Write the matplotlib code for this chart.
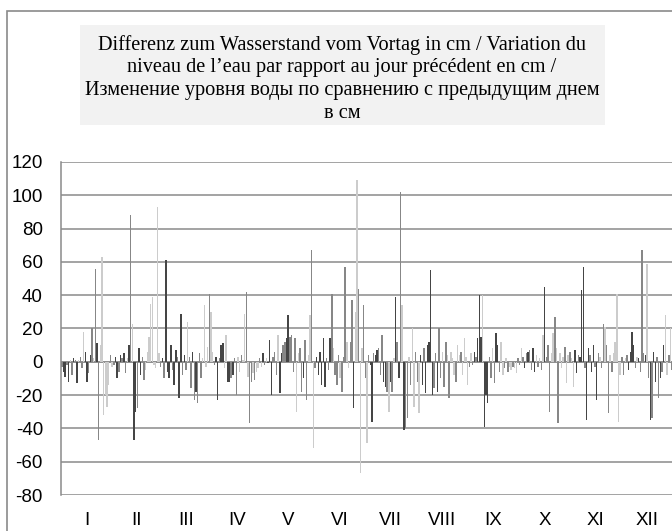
import matplotlib.pyplot as plt
from matplotlib.patches import Rectangle

plt.rcParams['axes.unicode_minus'] = False

# ================= data =================
months = ['I', 'II', 'III', 'IV', 'V', 'VI', 'VII', 'VIII', 'IX', 'X', 'XI', 'XII']
month_days = [31, 28, 31, 30, 31, 30, 31, 31, 30, 31, 30, 31]

# daily change of the water level in cm
jan = [-3, -6, -9, -2, -12, 1, -8, 2, 1, -13, 1, 3, -4, 18, 6, -12, -7, 4, 20, 2,
       56, 11, -47, 10, 63, -32, -20, -27, -14, 4, -3]
feb = [-2, 3, -10, -6, 4, 2, 5, -7, 2, 10, 88, 23, -47, -30, -28, 8, -8, 3, -11, -5,
       6, 15, 35, 39, -2, -4, 93, 5]
mar = [-3, 2, -10, 61, -6, -10, 10, -5, -14, 7, 3, -22, 29, -8, 4, -5, 24, 3, -16, 6,
       -23, -18, -25, 5, -10, 2, 34, -3, 9, 41, 30]
apr = [6, -2, 3, -23, 2, 10, 11, -4, 16, -12, -12, -10, -8, 2, -20, 3, -6, 4, 1, 29,
       42, -9, -37, -12, -7, -11, -6, -4, 2, -3]
may = [5, -2, 2, -1, 13, -20, 3, 6, -8, 16, -19, 5, 10, 12, 14, 28, 15, 16, -6, 14,
       -30, 5, 8, -18, -10, 13, -23, 4, 28, 67, -52]
jun = [-4, 3, -8, 6, -14, 14, -15, 2, -5, 14, 41, 8, -8, -14, 4, -10, -18, 3, 57, 12,
       -4, 12, 37, -28, 30, 109, 44, -67, 8, 34]
jul = [-10, -49, 4, -2, -36, 5, 4, 7, 8, -8, 16, -12, -15, -18, -30, -12, -18, 2, 39, 12,
       -10, 102, 34, -41, -40, -34, 3, -14, 20, -27, 6]
aug = [-12, -31, 4, -14, 8, -19, 10, 12, 55, -20, -16, 5, -18, 20, -10, 6, -15, 12, 4, -22,
       6, 2, -8, -12, 10, 4, 6, -8, 14, 3, -14]
sep = [-3, 5, -2, 6, 3, 14, 40, 15, 40, -39, -20, -25, 3, -10, 8, -13, 17, 10, -6, 12,
       -8, -4, 2, -6, -3, -5, -3, -4, -7, 2]
oct_ = [-2, 8, 3, -4, 5, 6, 7, -5, 8, -6, 4, -3, 2, -5, 16, 45, 3, 10, -30, 5,
        17, 27, 8, -37, 5, -4, 3, 9, -13, 4, 6]
nov = [2, -15, 7, -7, 4, 3, 43, 57, -4, -35, 8, 4, -6, 10, -3, -23, 5, 3, -4, 23,
       21, 10, -31, 4, -6, 5, 12, 41, -36, -8]
dec = [3, -8, 2, 4, -5, 6, 18, 10, -4, 3, 2, -6, 67, 5, 4, 59, -10, -35, -34, 6,
       -12, 3, -22, -10, -6, 10, 28, -8, 4, 20, -5]

# shade of each bar: d = dark, m = medium, l = light
jan_s = 'mddmdlmdmd' 'lmmlddmdml' 'mdmllllllm' 'l'
feb_s = 'mddmdmdmld' 'mlddmddmml' 'llllllll'
mar_s = 'mdmddddmdd' 'mddmdmlmmd' 'mdmmmllllm' 'l'
apr_s = 'lmddmddlld' 'dmdmmllmll' 'mlmmlmllml'
may_s = 'dmldddmmml' 'ddmmddmmmm' 'llmmdmmllm' 'l'
jun_s = 'mddddddmmd' 'mlmmmlmmml' 'lmmdllmllm'
jul_s = 'mlmddmddmm' 'mddmldmldm' 'dmldmmlmll' 'm'
aug_s = 'mlddmddddd' 'mmdmmlmmlm' 'lllmllmlll' 'l'
sep_s = 'mlmdmdddld' 'ddmmlmddml' 'lmlmllmllm'
oct_s = 'mlmdmdmmdd' 'lmlmldmmml' 'lmlmlllmll' 'm'
nov_s = 'llddmdddmd' 'dmddmdmlmm' 'lmmlmlllll'
dec_s = 'mmlmddddml' 'dmmmdlmdmd' 'dmmdmdllml' 'm'

title = ('Differenz zum Wasserstand vom Vortag in cm / Variation du\n'
         'niveau de l\u2019eau par rapport au jour précédent en cm /\n'
         'Изменение уровня воды по сравнению с предыдущим днем\n'
         'в см')
# ========================================

values = jan + feb + mar + apr + may + jun + jul + aug + sep + oct_ + nov + dec
shades = jan_s + feb_s + mar_s + apr_s + may_s + jun_s + jul_s + aug_s + sep_s + oct_s + nov_s + dec_s

shade_colors = {'d': '#454545', 'm': '#878787', 'l': '#cccccc'}
colors = [shade_colors[s] for s in shades]

W, H = 672, 531
fig = plt.figure(figsize=(W / 100, H / 100), dpi=100)

# outer chart border
fig.patches.append(Rectangle((7 / W, -0.1), 1.2, 1 - 10.5 / H + 0.1,
                             transform=fig.transFigure, fill=False,
                             edgecolor='#8a8a8a', linewidth=1.2))

# title box
fig.patches.append(Rectangle((80 / W, 1 - 125 / H), 525 / W, 100 / H,
                             transform=fig.transFigure, facecolor='#f2f2f2',
                             edgecolor='none'))
fig.text(342 / W, 1 - 79 / H, title, ha='center', va='center',
         family='Liberation Serif', fontsize=14.6, linespacing=1.28)

ax = fig.add_axes([61 / W, 36 / H, 612 / W, 333 / H])
x = list(range(len(values)))
ax.bar(x, values, width=0.85, color=colors[:len(values)], linewidth=0, zorder=3)

ax.set_xlim(-0.5, 364.5)
ax.set_ylim(-80, 120)
ax.set_yticks(range(-80, 121, 20))
ax.yaxis.grid(True, color='#8a8a8a', linewidth=1.1, zorder=0)
ax.axhline(0, color='#8a8a8a', linewidth=1.1, zorder=2)
ax.set_axisbelow(True)

# month labels centred in each month
centers = []
start = 0
for n in month_days:
    centers.append(start + n / 2 - 0.5)
    start += n
ax.set_xticks(centers)
ax.set_xticklabels(months)

for lab in ax.get_xticklabels() + ax.get_yticklabels():
    lab.set_family('Liberation Sans')
    lab.set_fontsize(13.5)
ax.tick_params(length=0)
ax.tick_params(axis='y', pad=13)
ax.tick_params(axis='x', pad=12)

for side in ['top', 'right', 'bottom']:
    ax.spines[side].set_visible(False)
ax.spines['left'].set_color('#8a8a8a')
ax.spines['left'].set_linewidth(1.1)

fig.savefig('out.png', dpi=100)
